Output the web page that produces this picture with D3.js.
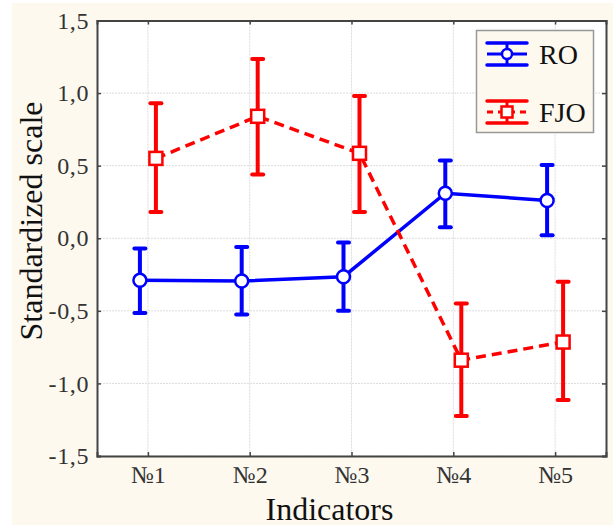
<!DOCTYPE html>
<html>
<head>
<meta charset="utf-8">
<script src="https://cdn.jsdelivr.net/npm/d3@7"></script>
<style>
	body{margin:0;background:#ffffff;}
	svg{display:block;}
	text{font-family:"Liberation Serif","Times New Roman",serif;fill:#111;}
	.tick text{font-size:24px;fill:#333;}
	.yax .tick text{letter-spacing:0.6px;}
</style>
</head>
<body>
<svg id="chart"></svg>
<script>
// categories and series
var categories = ["№1", "№2", "№3", "№4", "№5"];
var yTicks = [1.5, 1.0, 0.5, 0.0, -0.5, -1.0, -1.5];

var roMean  = [-0.29, -0.295, -0.265, 0.31, 0.26];
var roUpper = [-0.07, -0.06, -0.03, 0.535, 0.505];
var roLower = [-0.515, -0.525, -0.50, 0.075, 0.02];

var fjoMean  = [0.55, 0.84, 0.585, -0.84, -0.715];
var fjoUpper = [0.93, 1.235, 0.98, -0.45, -0.30];
var fjoLower = [0.18, 0.44, 0.18, -1.225, -1.115];

var seriesNames = ["RO", "FJO"];

ErrChart = {
	"_width": 616,
	"_height": 527,
	"_margins": {"top": 20.5, "right": 10, "bottom": 71, "left": 97},
	"_svg": null,
	"_g": null,
	"_x": null,
	"_y": null,

	"render": function(selector){
		this._svg = d3.select(selector)
					  .attr("width", this._width)
					  .attr("height", this._height);

		// cream page background
		this._svg.append("rect")
				 .attr("x", 12).attr("y", 3)
				 .attr("width", 601).attr("height", 522)
				 .attr("fill", "#fdf9ef");

		this._x = d3.scalePoint()
					.domain(categories)
					.range([0, this.quadrantWidth()])
					.padding(0.5);
		this._y = d3.scaleLinear()
					.domain([-1.5, 1.5])
					.range([this.quadrantHeight(), 0]);

		this._g = this._svg.append("g")
				   .attr("transform", "translate(" + this._margins.left + "," + this._margins.top + ")");

		this.renderFrame();
		this.renderSeries(this.toRows(roMean, roUpper, roLower), "#0000ff", -8, "circle", null);
		this.renderSeries(this.toRows(fjoMean, fjoUpper, fjoLower), "#ff0000", 8, "square", "10,6");
		this.renderAxes();
		this.renderLegend();
	},
	"toRows": function(mean, upper, lower){
		return categories.map(function(c, i){
			return {"cat": c, "val": mean[i], "hi": upper[i], "lo": lower[i]};
		});
	},
	"renderFrame": function(){
		var w = this.quadrantWidth(), h = this.quadrantHeight(), that = this;
		this._g.append("rect")
			   .attr("width", w).attr("height", h)
			   .attr("fill", "#ffffff");

		// grid
		this._g.selectAll(".vgrid").data(categories).enter()
			   .append("line")
			   .attr("class", "vgrid")
			   .attr("x1", function(d){ return that._x(d); })
			   .attr("x2", function(d){ return that._x(d); })
			   .attr("y1", 0).attr("y2", h)
			   .attr("stroke", "#dcdcdc")
			   .attr("stroke-dasharray", "2,1");
		this._g.selectAll(".hgrid").data(yTicks).enter()
			   .append("line")
			   .attr("class", "hgrid")
			   .attr("x1", 0).attr("x2", w)
			   .attr("y1", function(d){ return that._y(d); })
			   .attr("y2", function(d){ return that._y(d); })
			   .attr("stroke", "#dcdcdc")
			   .attr("stroke-dasharray", "2,1");
	},
	"renderAxes": function(){
		var w = this.quadrantWidth(), h = this.quadrantHeight();
		var fmt = function(d){ return d3.format(".1f")(d).replace(".", ",").replace("−", "-"); };

		var left = this._g.append("g")
			.attr("class", "yax")
			.call(d3.axisLeft(this._y).tickValues(yTicks).tickSize(-4).tickPadding(8).tickFormat(fmt));
		var right = this._g.append("g")
			.attr("transform", "translate(" + w + ",0)")
			.call(d3.axisRight(this._y).tickValues(yTicks).tickSize(-4).tickFormat(""));
		var bottom = this._g.append("g")
			.attr("transform", "translate(0," + h + ")")
			.call(d3.axisBottom(this._x).tickSize(-4).tickPadding(10));
		var top = this._g.append("g")
			.call(d3.axisTop(this._x).tickSize(-4).tickFormat(""));

		[left, right, bottom, top].forEach(function(a){
			a.attr("font-family", null).attr("font-size", null);
			a.select(".domain").attr("stroke", "#444").attr("stroke-width", 2);
			a.selectAll(".tick line").attr("stroke", "#444").attr("stroke-width", 1.5);
		});

		// axis titles
		this._svg.append("text")
				 .attr("transform", "translate(42,221) rotate(-90)")
				 .attr("text-anchor", "middle")
				 .attr("font-size", "32px")
				 .text("Standardized scale");
		this._svg.append("text")
				 .attr("x", this._margins.left + w / 2 - 22)
				 .attr("y", 520)
				 .attr("text-anchor", "middle")
				 .attr("font-size", "32px")
				 .text("Indicators");
	},
	"renderSeries": function(rows, color, shift, shape, dash){
		var that = this;
		var g = this._g.append("g");
		var cx = function(d){ return that._x(d.cat) + shift; };

		var line = d3.line()
					 .x(cx)
					 .y(function(d){ return that._y(d.val); });
		g.append("path")
		 .attr("d", line(rows))
		 .attr("fill", "none")
		 .attr("stroke", color)
		 .attr("stroke-width", 3.5)
		 .attr("stroke-dasharray", dash);

		// error bars
		var bars = g.selectAll(".err").data(rows).enter().append("g").attr("class", "err");
		bars.append("line")
			.attr("x1", cx).attr("x2", cx)
			.attr("y1", function(d){ return that._y(d.hi); })
			.attr("y2", function(d){ return that._y(d.lo); })
			.attr("stroke", color).attr("stroke-width", 4);
		["hi", "lo"].forEach(function(k){
			bars.append("line")
				.attr("x1", function(d){ return cx(d) - 5.5; })
				.attr("x2", function(d){ return cx(d) + 5.5; })
				.attr("y1", function(d){ return that._y(d[k]); })
				.attr("y2", function(d){ return that._y(d[k]); })
				.attr("stroke", color).attr("stroke-width", 4)
				.attr("stroke-linecap", "round");
		});

		// markers
		if(shape === "circle"){
			g.selectAll(".mk").data(rows).enter()
			 .append("circle")
			 .attr("cx", cx)
			 .attr("cy", function(d){ return that._y(d.val); })
			 .attr("r", 6.5)
			 .attr("fill", "#ffffff")
			 .attr("stroke", color).attr("stroke-width", 2.5);
		}else{
			g.selectAll(".mk").data(rows).enter()
			 .append("rect")
			 .attr("x", function(d){ return cx(d) - 6.5; })
			 .attr("y", function(d){ return that._y(d.val) - 6.5; })
			 .attr("width", 13).attr("height", 13)
			 .attr("fill", "#ffffff")
			 .attr("stroke", color).attr("stroke-width", 2.5);
		}
	},
	"renderLegend": function(){
		var lg = this._svg.append("g");
		lg.append("rect")
		  .attr("x", 476.5).attr("y", 30.5)
		  .attr("width", 117).attr("height", 102)
		  .attr("fill", "#fdf9ef")
		  .attr("stroke", "#999").attr("stroke-width", 1.5);

		var items = [
			{"name": seriesNames[0], "color": "#0000ff", "shape": "circle", "dash": null, "y": 54},
			{"name": seriesNames[1], "color": "#ff0000", "shape": "square", "dash": "6,5", "y": 112}
		];
		items.forEach(function(it){
			var x0 = 487, x1 = 527, xc = (x0 + x1) / 2;
			[-11, 11].forEach(function(dy){
				lg.append("line")
				  .attr("x1", x0).attr("x2", x1)
				  .attr("y1", it.y + dy).attr("y2", it.y + dy)
				  .attr("stroke", it.color).attr("stroke-width", 3.5)
				  .attr("stroke-linecap", "round");
			});
			lg.append("line")
			  .attr("x1", xc).attr("x2", xc)
			  .attr("y1", it.y - 11).attr("y2", it.y + 11)
			  .attr("stroke", it.color).attr("stroke-width", 3);
			lg.append("line")
			  .attr("x1", x0).attr("x2", x1)
			  .attr("y1", it.y).attr("y2", it.y)
			  .attr("stroke", it.color).attr("stroke-width", 3)
			  .attr("stroke-dasharray", it.dash);
			if(it.shape === "circle"){
				lg.append("circle").attr("cx", xc).attr("cy", it.y).attr("r", 5)
				  .attr("fill", "#ffffff").attr("stroke", it.color).attr("stroke-width", 2.5);
			}else{
				lg.append("rect").attr("x", xc - 5.5).attr("y", it.y - 5.5)
				  .attr("width", 11).attr("height", 11)
				  .attr("fill", "#ffffff").attr("stroke", it.color).attr("stroke-width", 2.5);
			}
			lg.append("text")
			  .attr("x", 539).attr("y", it.y + 10)
			  .attr("font-size", "28px")
			  .text(it.name);
		});
	},
	"quadrantWidth": function(){
		return this._width - this._margins.left - this._margins.right;
	},
	"quadrantHeight": function(){
		return this._height - this._margins.top - this._margins.bottom;
	}
};

ErrChart.render("#chart");
</script>
</body>
</html>
